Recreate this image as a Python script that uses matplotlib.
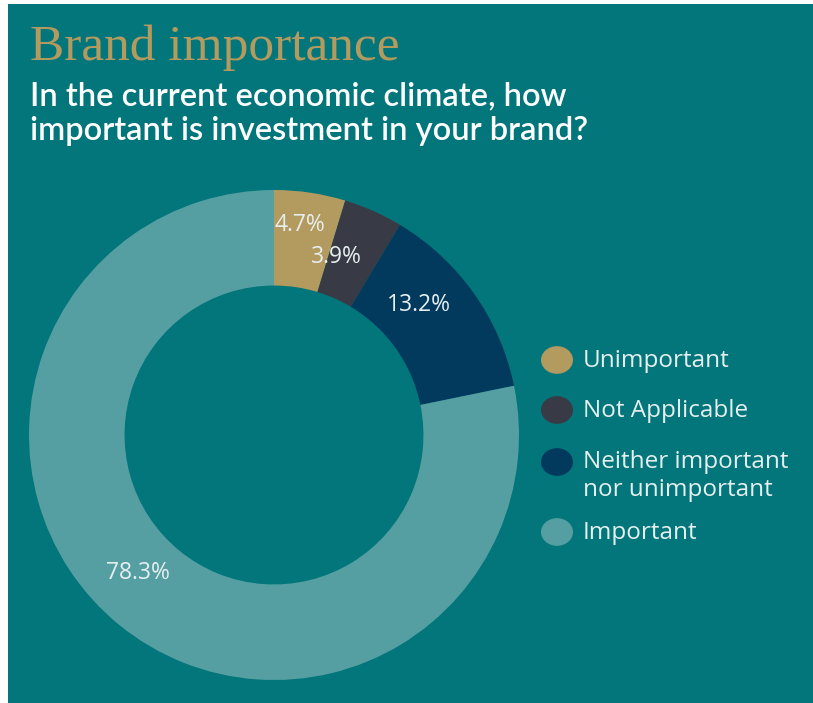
import numpy as np
import matplotlib
matplotlib.use("Agg")
import matplotlib.pyplot as plt
from matplotlib.patches import Rectangle

categories = ["Unimportant", "Not Applicable", "Neither important\nnor unimportant", "Important"]
values = [4.7, 3.9, 13.2, 78.3]
colors = ["#B39A5E", "#383A45", "#023A5E", "#559FA3"]

title = "Brand importance"
subtitle_lines = ["In the current economic climate, how", "important is investment in your brand?"]

BG = "#02767A"
W, H = 813, 703

fig = plt.figure(figsize=(W / 100, H / 100), dpi=100)
fig.patch.set_facecolor("white")
# teal panel with a thin white margin on the left and top
fig.add_artist(Rectangle((8 / W, 0), 1, 1 - 4 / H, transform=fig.transFigure,
                         facecolor=BG, edgecolor="none", zorder=0))

cx, cy, R = 274, 435, 245
ax = fig.add_axes([(cx - R) / W, 1 - (cy + R) / H, 2 * R / W, 2 * R / H])
ax.set_facecolor("none")
wedges, _ = ax.pie(values, colors=colors, startangle=90, counterclock=False,
                   radius=1.0, wedgeprops=dict(width=0.39, edgecolor="none"))
ax.set_xlim(-1, 1)
ax.set_ylim(-1, 1)
ax.set_aspect("equal")
ax.axis("off")

# percentage labels placed along each slice (radius, angular nudge in degrees)
label_font = dict(family=["Open Sans", "DejaVu Sans"], color="#E6EFEF", fontsize=16.5,
                  ha="center", va="center")
offsets = [(0.864, 1.4), (0.769, 4.7), (0.795, 6.6), (0.791, -5.2)]
for w, v, (r, da) in zip(wedges, values, offsets):
    ang = np.deg2rad((w.theta1 + w.theta2) / 2 + da)
    ax.text(r * np.cos(ang), r * np.sin(ang), f"{v}%", **label_font)

# legend
leg_y = [360, 410, 462, 532]
for c, lab, y in zip(colors, categories, leg_y):
    ty = y + 14 if "\n" in lab else y + 1
    fig.text(583 / W, 1 - ty / H, lab, color="#E6EFEF", fontsize=17.5,
             family=["Open Sans", "DejaVu Sans"], ha="left", va="center", linespacing=1.2)
    fig.add_artist(plt.Circle((557 / W, 1 - y / H), 16 / W, transform=fig.transFigure,
                              facecolor=c, edgecolor="none"))

fig.text(30 / W, 1 - 60 / H, title, color="#B39A5E", fontsize=37,
         family="Liberation Serif", ha="left", va="baseline")
for i, line in enumerate(subtitle_lines):
    fig.text(30 / W, 1 - (105 + 35 * i) / H, line, color="white", fontsize=23.5,
             family=["Lato", "DejaVu Sans"], fontweight="semibold", ha="left", va="baseline")

fig.savefig("out.png", dpi=100, facecolor=fig.get_facecolor())
